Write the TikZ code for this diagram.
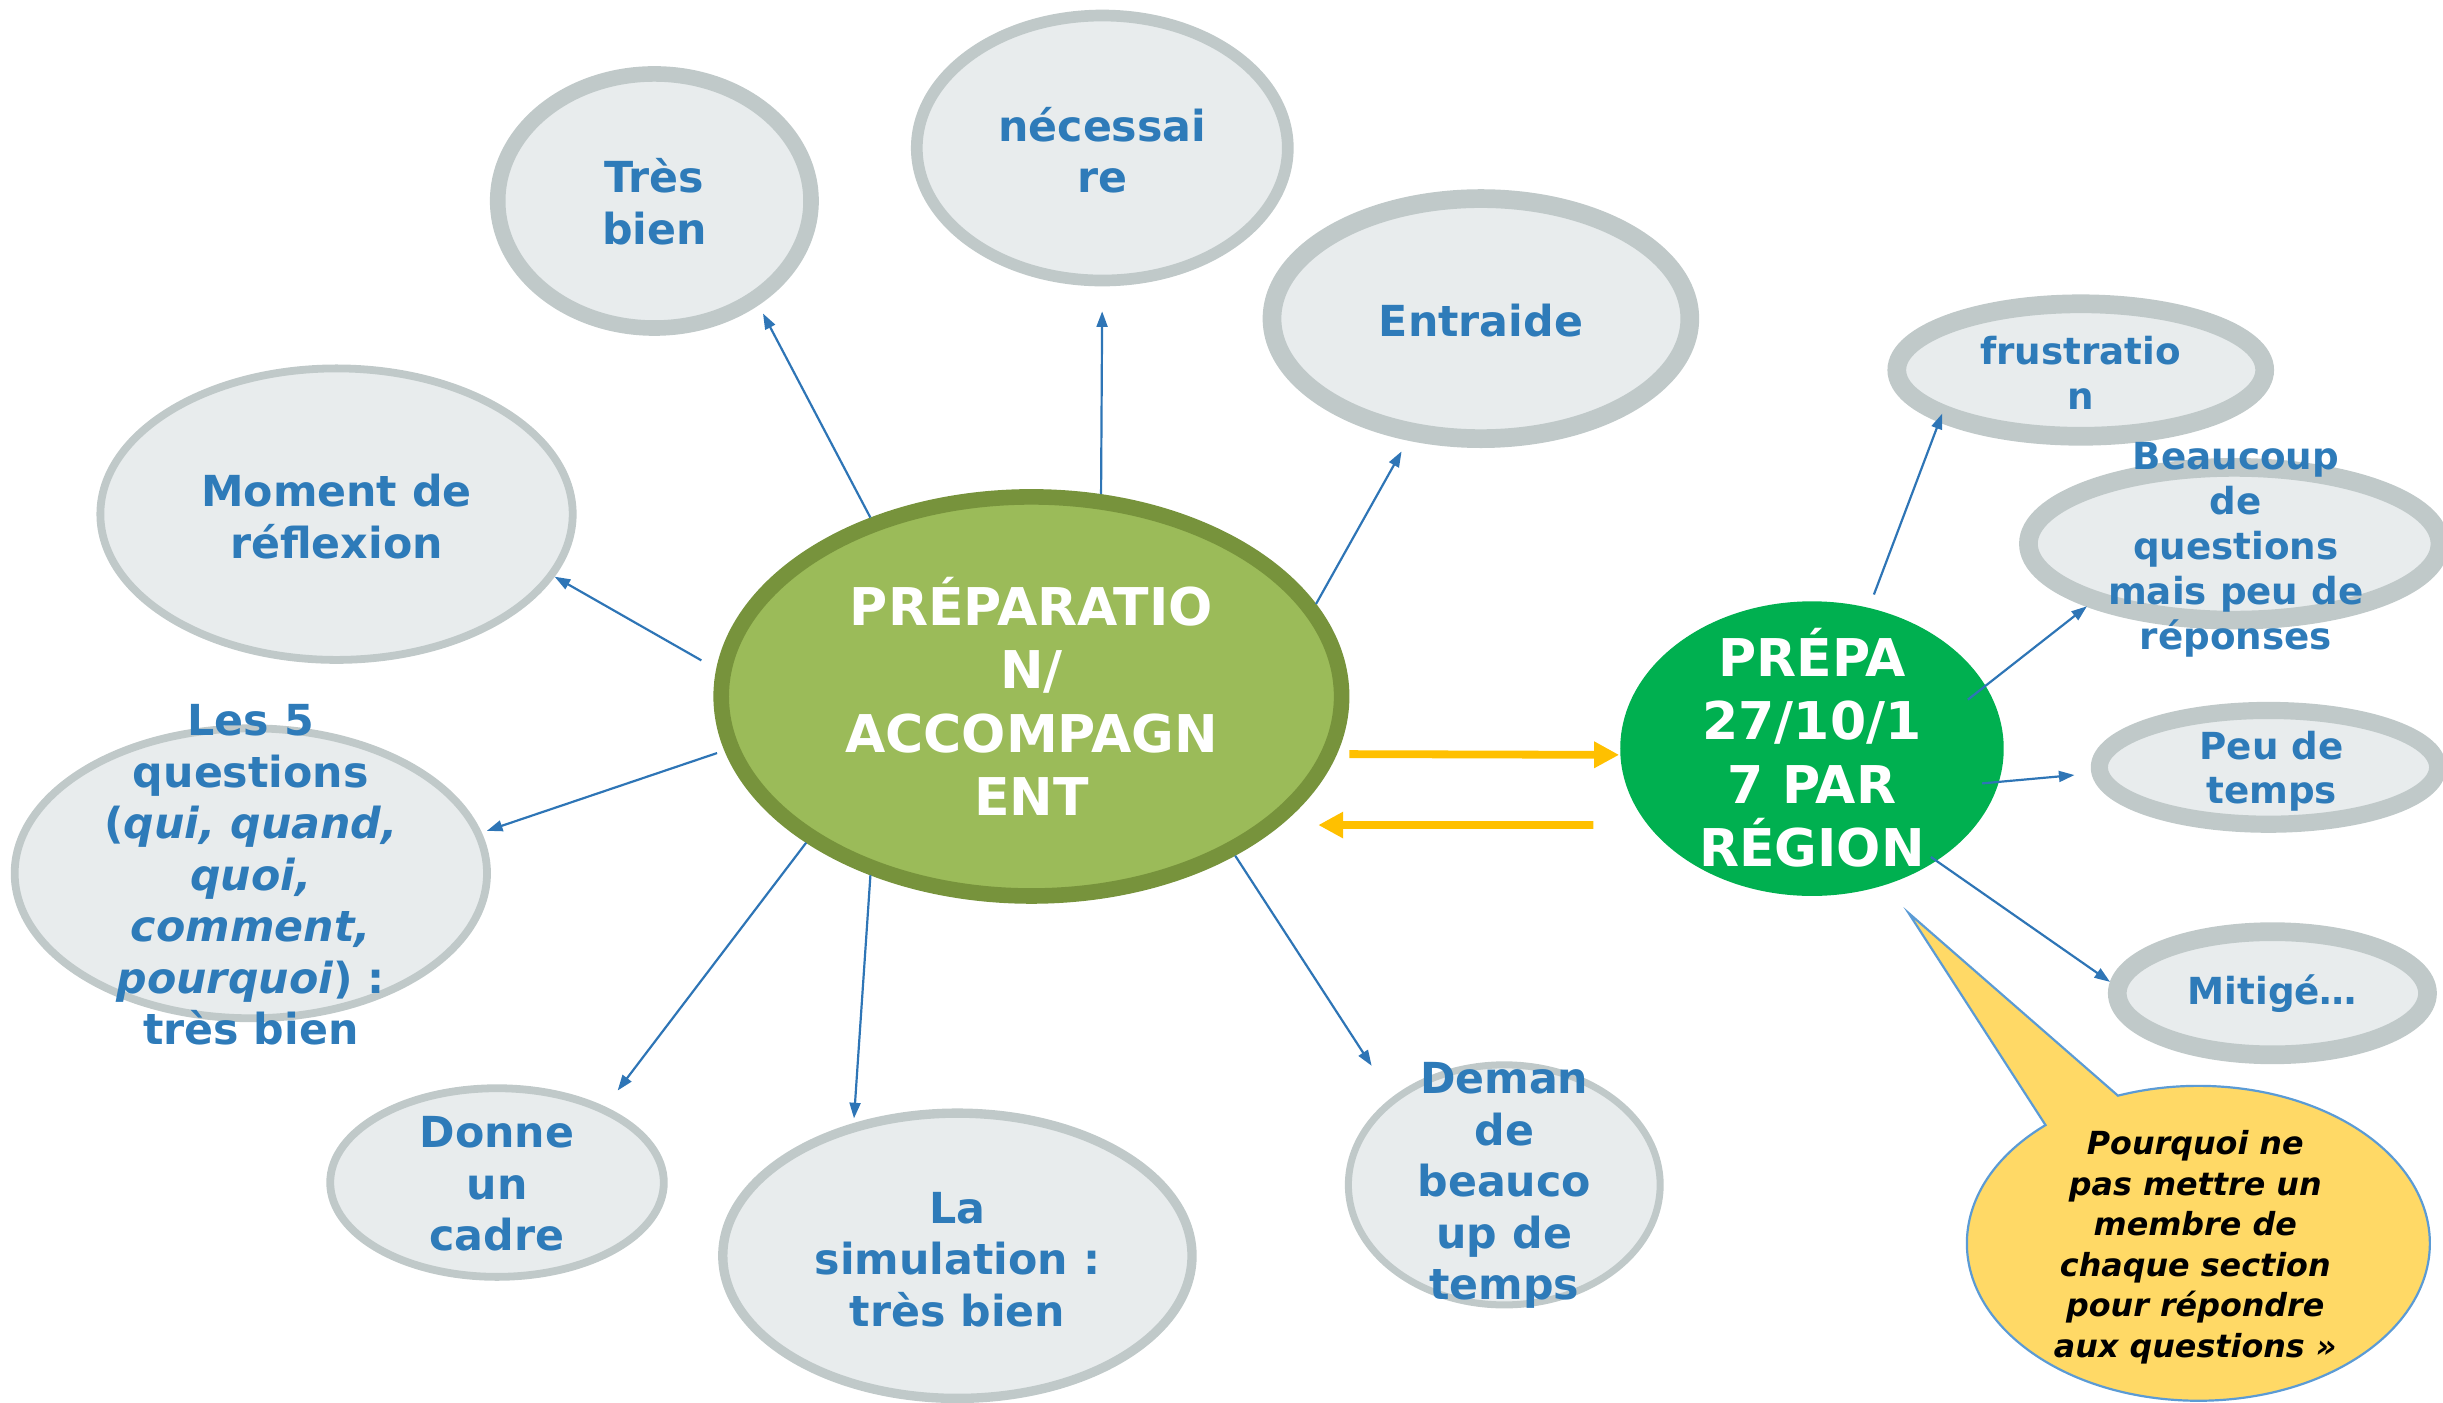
\documentclass[tikz,border=0pt]{standalone}
\usepackage{fontspec}
\setmainfont{DejaVu Sans}
\usetikzlibrary{shapes.geometric,shapes.callouts,arrows.meta}

\definecolor{bubblefill}{HTML}{E8ECED}
\definecolor{bubbleedge}{HTML}{C0C9C9}
\definecolor{textblue}{HTML}{2E7BB9}
\definecolor{linkblue}{HTML}{2E75B6}
\definecolor{prepfill}{HTML}{9BBB59}
\definecolor{prepedge}{HTML}{77933C}
\definecolor{prepagreen}{HTML}{00B050}
\definecolor{arrowyellow}{HTML}{FFC000}
\definecolor{notefill}{HTML}{FFD966}
\definecolor{noteedge}{HTML}{5B9BD5}

\tikzset{
  bubble/.style={ellipse, draw=bubbleedge, fill=bubblefill, inner sep=0pt},
  bubbletext/.style={text=textblue, font=\bfseries\fontsize{7.8}{9.4}\selectfont, align=center, inner sep=0pt},
  smalltext/.style={bubbletext, font=\bfseries\fontsize{6.8}{8.2}\selectfont},
  bigtext/.style={text=white, font=\bfseries\fontsize{9.5}{11.6}\selectfont, align=center, inner sep=0pt},
  notetext/.style={text=black, font=\bfseries\itshape\fontsize{5.8}{7.4}\selectfont, align=center, inner sep=0pt},
  link/.style={draw=linkblue, line width=0.4pt, -{Triangle[length=1mm,width=0.7mm]}},
  yarrow/.style={draw=arrowyellow, line width=0.05cm, -{Triangle[length=1.6mm,width=1.6mm]}}
}

\begin{document}
\begin{tikzpicture}[x=0.01cm, y=-0.01cm]
  \useasboundingbox (0,0) rectangle (1568,900);

  %% centre
  \node[ellipse, fill=prepfill, draw=prepedge, line width=0.1cm,
        minimum width=3.98cm, minimum height=2.56cm] (prep) at (662,447) {};
  \node[bigtext] (preptxt) at (662,447) {PRÉPARATIO\\N/\\ACCOMPAGN\\ENT};

  \node[ellipse, fill=prepagreen, minimum width=2.46cm, minimum height=1.89cm] (prepa) at (1163,480.5) {};
  \node[bigtext] (prepatxt) at (1163,480) {PRÉPA\\27/10/1\\7 PAR\\RÉGION};

  %% bubbles round the centre
  \node[bubble, line width=0.1cm, minimum width=2.01cm, minimum height=1.63cm] (tres) at (420,129) {};
  \node[bubbletext] (trestxt) at (420,129.5) {Très\\bien};

  \node[bubble, line width=0.075cm, minimum width=2.38cm, minimum height=1.70cm] (nec) at (707.5,95) {};
  \node[bubbletext] (nectxt) at (707.5,96.5) {nécessai\\re};

  \node[bubble, line width=0.12cm, minimum width=2.68cm, minimum height=1.54cm] (entr) at (950.5,204.5) {};
  \node[bubbletext] (entrtxt) at (950.5,206) {Entraide};

  \node[bubble, line width=0.05cm, minimum width=3.03cm, minimum height=1.87cm] (moment) at (216,330) {};
  \node[bubbletext] (momenttxt) at (216,331.5) {Moment de\\réflexion};

  \node[bubble, line width=0.05cm, minimum width=3.03cm, minimum height=1.86cm] (cinq) at (161,560.5) {};
  \node[bubbletext] (cinqtxt) at (161,561.5) {Les 5\\questions\\(\textit{qui, quand,}\\\textit{quoi,}\\\textit{comment,}\\\textit{pourquoi}) :\\très bien};

  \node[bubble, line width=0.05cm, minimum width=2.14cm, minimum height=1.21cm] (cadre) at (319,759) {};
  \node[bubbletext] (cadretxt) at (319,760) {Donne\\un\\cadre};

  \node[bubble, line width=0.06cm, minimum width=3.01cm, minimum height=1.83cm] (simu) at (614.5,806) {};
  \node[bubbletext] (simutxt) at (614.5,808.5) {La\\simulation :\\très bien};

  \node[bubble, line width=0.045cm, minimum width=2.00cm, minimum height=1.54cm] (deman) at (965.5,760.5) {};
  \node[bubbletext] (demantxt) at (965.5,761) {Deman\\de\\beauco\\up de\\temps};

  %% bubbles round the region node
  \node[bubble, line width=0.12cm, minimum width=2.36cm, minimum height=0.85cm] (frus) at (1335.5,237.5) {};
  \node[smalltext] (frustxt) at (1335.5,239.5) {frustratio\\n};

  \node[bubble, line width=0.12cm, minimum width=2.64cm, minimum height=0.98cm] (beau) at (1434,349) {};
  \node[smalltext] (beautxt) at (1435,353) {Beaucoup\\de\\questions\\mais peu de\\réponses};

  \node[bubble, line width=0.11cm, minimum width=2.17cm, minimum height=0.73cm] (peu) at (1456,492.5) {};
  \node[smalltext] (peutxt) at (1458,495) {Peu de\\temps};

  \node[bubble, line width=0.12cm, minimum width=1.99cm, minimum height=0.79cm] (miti) at (1458.5,637.5) {};
  \node[smalltext] (mititxt) at (1458.5,638) {Mitigé…};

  %% callout
  \node[ellipse callout, fill=notefill, draw=noteedge, line width=0.4pt,
        minimum width=2.97cm, minimum height=2.02cm,
        callout absolute pointer={(1225,586)}, callout pointer arc=21] (remark) at (1411,798) {};
  \node[notetext] (remarktxt) at (1409,800.5) {Pourquoi ne\\pas mettre un\\membre de\\chaque section\\pour répondre\\aux questions »};

  %% links
  \draw[link, shorten >=0.06cm] (prep.132) -- (tres.315);
  \draw[link, shorten >=0.16cm] (prep.71) -- (nec.270);
  \draw[link, shorten >=0.08cm] (prep.18) -- (entr.239);
  \draw[link, shorten <=0.11cm] (prep.175) -- (moment.344);
  \draw[link, shorten <=0.05cm, shorten >=0.035cm] (prep.190) -- (cinq.10);
  \draw[link, shorten >=0.13cm] (prep.213) -- (cadre.35);
  \draw[link, shorten >=0.03cm] (prep.228) -- (simu.128);
  \draw[link, shorten >=0.24cm] (prep.322) -- (deman.142);

  \draw[link, shorten <=0.085cm, shorten >=-0.055cm] (prepa.68) -- (frus.200);
  \draw[link, shorten <=-0.15cm] (prepa.20) -- (beau.203);
  \draw[link, shorten <=-0.115cm, shorten >=0.11cm] (prepa.350) -- (peu.182);
  \draw[link, shorten <=-0.05cm] (prepa.318) -- (miti.176);

  %% yellow arrows
  \draw[yarrow] ([yshift=-0.37cm]prep.east) -- ([yshift=-0.04cm]prepa.west);
  \draw[yarrow] ([shift={(-0.165cm,-0.49cm)}]prepa.west) -- ([shift={(-0.2cm,-0.825cm)}]prep.east);

\end{tikzpicture}
\end{document}
